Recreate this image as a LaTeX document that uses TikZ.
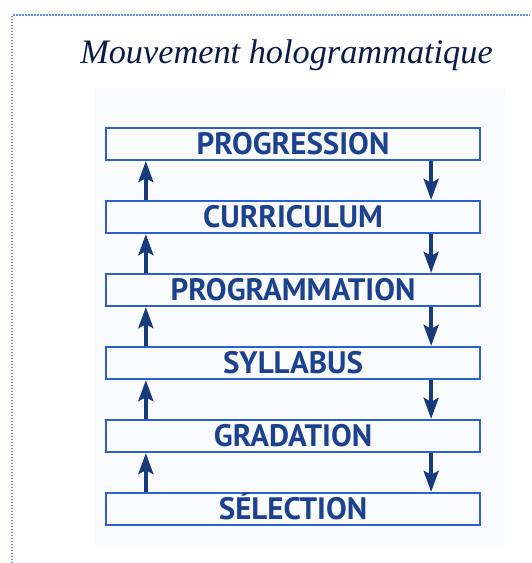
\documentclass[tikz,border=0pt]{standalone}
\usepackage{fontspec}
\setmainfont{Liberation Serif}
\newfontfamily\boxfont{PT Sans}
\usepackage{tikz}
\usetikzlibrary{positioning,arrows.meta,calc}
\definecolor{frameblue}{HTML}{5B8DEF}
\definecolor{boxblue}{HTML}{2C60CC}
\definecolor{textnavy}{HTML}{1C428F}
\definecolor{arrnavy}{HTML}{163A7C}
\definecolor{titlenavy}{HTML}{0C1A48}
\definecolor{paleblue}{HTML}{FAFBFE}
\tikzset{
  level/.style={draw=boxblue,line width=2.3pt,minimum width=374pt,minimum height=32pt,
    inner sep=0pt,text=textnavy,font=\boxfont\bfseries\fontsize{31}{31}\selectfont,
    text height=21pt,text depth=0pt},
  uparr/.style={-{Stealth[length=21pt,width=15pt,inset=4pt]},line width=3.6pt,draw=arrnavy,fill=arrnavy},
  downarr/.style={uparr}
}

\begin{document}
\begin{tikzpicture}[x=1pt,y=-1pt,node distance=38.7pt]
\useasboundingbox (0,0) rectangle (531,563);
\fill[paleblue] (95,88) rectangle (505,547);
\draw[frameblue,line width=1.5pt,dash pattern=on 1.5pt off 1.5pt] (12,563) -- (12,15) -- (530,15);

\node[font=\fontsize{34.3}{34.3}\selectfont\itshape,text=titlenavy,anchor=base] (title) at (286.5,63) {Mouvement hologrammatique};

\node[level] (prog) at (293,144) {PROGRESSION};
\node[level, below=of prog] (curr) {CURRICULUM};
\node[level, below=of curr] (progr) {PROGRAMMATION};
\node[level, below=of progr] (syll) {SYLLABUS};
\node[level, below=of syll] (grad) {GRADATION};
\node[level, below=of grad] (sel) {SÉLECTION};

% montée a gauche
\draw[uparr] ([xshift=41pt]sel.north west) -- ([xshift=41pt]grad.south west);
\draw[uparr] ([xshift=41pt]grad.north west) -- ([xshift=41pt]syll.south west);
\draw[uparr] ([xshift=41pt]syll.north west) -- ([xshift=41pt]progr.south west);
\draw[uparr] ([xshift=41pt]progr.north west) -- ([xshift=41pt]curr.south west);
\draw[uparr] ([xshift=41pt]curr.north west) -- ([xshift=41pt]prog.south west);

% descente a droite
\draw[downarr] ([xshift=-50pt]prog.south east) -- ([xshift=-50pt]curr.north east);
\draw[downarr] ([xshift=-50pt]curr.south east) -- ([xshift=-50pt]progr.north east);
\draw[downarr] ([xshift=-50pt]progr.south east) -- ([xshift=-50pt]syll.north east);
\draw[downarr] ([xshift=-50pt]syll.south east) -- ([xshift=-50pt]grad.north east);
\draw[downarr] ([xshift=-50pt]grad.south east) -- ([xshift=-50pt]sel.north east);
\end{tikzpicture}
\end{document}
